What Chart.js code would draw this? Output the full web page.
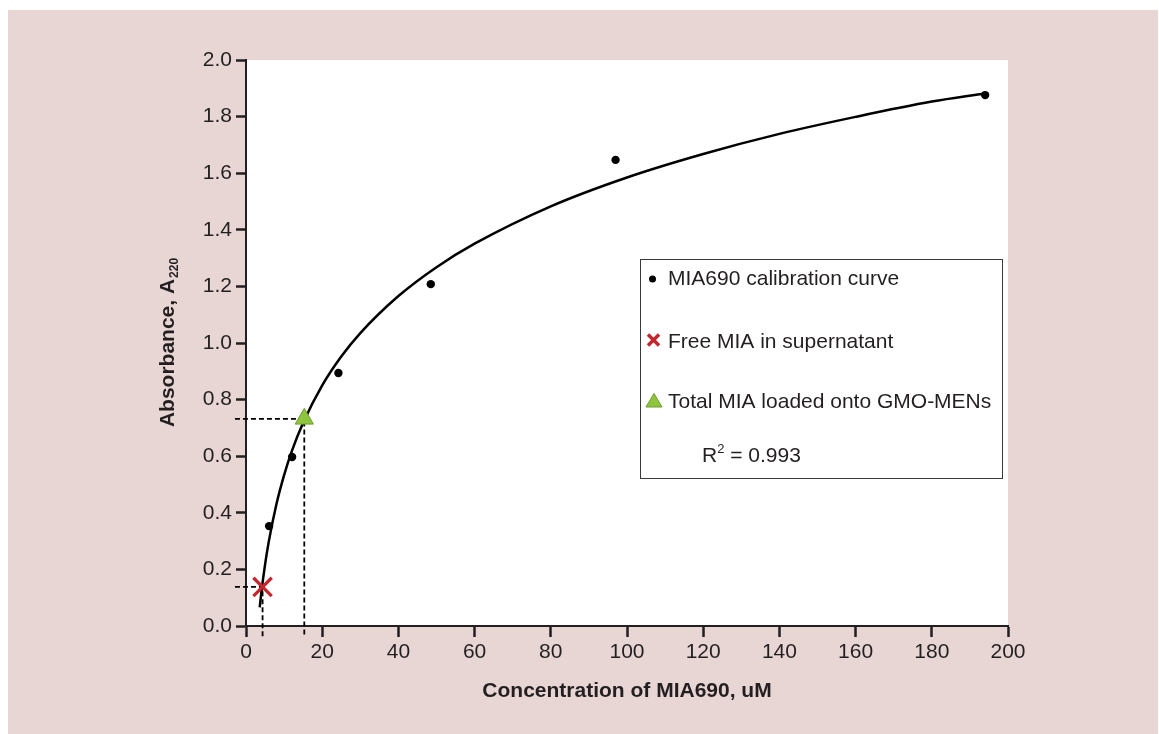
<!DOCTYPE html>
<html>
<head>
<meta charset="utf-8">
<script src="https://cdn.jsdelivr.net/npm/chart.js@4.4.1/dist/chart.umd.min.js"></script>
<style>
  html, body { margin: 0; padding: 0; background: #fff; }
  #panel { position: absolute; left: 8px; top: 10px; width: 1150px; height: 724px; background: #e8d6d5; }
  #chart { position: absolute; left: 0; top: 0; }
</style>
</head>
<body>
<div id="panel"></div>
<canvas id="chart" width="1159" height="734"></canvas>
<script>
// calibration standards
const concX = [6.06, 12.1, 24.25, 48.5, 97, 194];
const absY = [0.353, 0.597, 0.894, 1.208, 1.647, 1.876];

// fitted curve
const curveX = [3.6, 4, 5, 6, 8, 10, 12, 15, 20, 25, 30, 40, 50, 60, 80, 100, 120, 140, 160, 180, 194];
const curveY = [0.066, 0.115, 0.217, 0.300, 0.431, 0.533, 0.617, 0.718, 0.850, 0.952, 1.035, 1.166, 1.268, 1.351, 1.483, 1.585, 1.668, 1.739, 1.799, 1.853, 1.882];

// samples
const freeX = [4.35];
const freeY = [0.138];
const totalX = [15.3];
const totalY = [0.732];

// axis ticks
const xTicks = [0, 20, 40, 60, 80, 100, 120, 140, 160, 180, 200];
const yTicks = [0, 0.2, 0.4, 0.6, 0.8, 1.0, 1.2, 1.4, 1.6, 1.8, 2.0];

// dashed guides run a little past the axes, into the tick marks
const guideXStart = -2.9;
const guideYEnd = -0.036;

const INK = "#231f20";
const FONT = "'Liberation Sans', Arial, Helvetica, sans-serif";
const RED = "#c1272d";
const GREEN = "#8fc43f";

const pts = (xs, ys) => xs.map((x, i) => ({ x, y: ys[i] }));

function guide(x, y) {
    return [{ x: guideXStart, y }, { x, y }, { x, y: guideYEnd }];
}

// white plot area
const plotBg = {
    id: "plotBg",
    beforeDraw(chart) {
        const { ctx, chartArea: a } = chart;
        ctx.save();
        ctx.fillStyle = "#fff";
        ctx.fillRect(a.left, a.top, a.right - a.left, a.bottom - a.top);
        ctx.restore();
    }
};

// y title with subscript
const yTitle = {
    id: "yTitle",
    afterDraw(chart) {
        const { ctx, chartArea: a } = chart;
        const main = "Absorbance, A";
        const sub = "220";
        ctx.save();
        ctx.fillStyle = INK;
        ctx.font = `bold 21px ${FONT}`;
        const wMain = ctx.measureText(main).width;
        ctx.font = `bold 12px ${FONT}`;
        const wSub = ctx.measureText(sub).width;
        const total = wMain + wSub;
        ctx.translate(174, (a.top + a.bottom) / 2);
        ctx.rotate(-Math.PI / 2);
        ctx.textBaseline = "alphabetic";
        ctx.textAlign = "left";
        ctx.font = `bold 21px ${FONT}`;
        ctx.fillText(main, -total / 2, 0);
        ctx.font = `bold 12px ${FONT}`;
        ctx.fillText(sub, -total / 2 + wMain + 1, 4);
        ctx.restore();
    }
};

// legend box
const legendBox = {
    id: "legendBox",
    afterDraw(chart) {
        const ctx = chart.ctx;
        ctx.save();
        ctx.strokeStyle = "#3a3a3a";
        ctx.lineWidth = 1;
        ctx.strokeRect(640.5, 259.5, 362, 219);

        ctx.font = `21px ${FONT}`;
        ctx.fillStyle = INK;
        ctx.textBaseline = "alphabetic";
        ctx.fillText("MIA690 calibration curve", 668, 285);
        ctx.fillText("Free MIA in supernatant", 668, 347.5);
        ctx.fillText("Total MIA loaded onto GMO-MENs", 668, 408);

        // R²
        ctx.fillText("R", 702, 462);
        const wR = ctx.measureText("R").width;
        ctx.font = `13px ${FONT}`;
        ctx.fillText("2", 702 + wR, 453);
        const w2 = ctx.measureText("2").width;
        ctx.font = `21px ${FONT}`;
        ctx.fillText(" = 0.993", 702 + wR + w2, 462);

        // markers
        ctx.fillStyle = "#000";
        ctx.beginPath();
        ctx.arc(652.5, 279, 3.5, 0, Math.PI * 2);
        ctx.fill();

        ctx.strokeStyle = RED;
        ctx.lineWidth = 3.5;
        ctx.beginPath();
        ctx.moveTo(648, 334.5); ctx.lineTo(659, 345.5);
        ctx.moveTo(659, 334.5); ctx.lineTo(648, 345.5);
        ctx.stroke();

        ctx.fillStyle = GREEN;
        ctx.strokeStyle = "#6f9c2c";
        ctx.lineWidth = 1;
        ctx.beginPath();
        ctx.moveTo(654, 393.5);
        ctx.lineTo(662, 407);
        ctx.lineTo(646, 407);
        ctx.closePath();
        ctx.fill();
        ctx.stroke();
        ctx.restore();
    }
};

const ctx = document.getElementById("chart").getContext("2d");

new Chart(ctx, {
    type: "scatter",
    data: {
        datasets: [
            {
                label: "Total MIA loaded onto GMO-MENs",
                data: pts(totalX, totalY),
                pointStyle: "triangle",
                pointRadius: 10.5,
                backgroundColor: GREEN,
                borderColor: "#6f9c2c",
                borderWidth: 1,
                order: 1
            },
            {
                label: "Free MIA in supernatant",
                data: pts(freeX, freeY),
                pointStyle: "crossRot",
                pointRadius: 13,
                borderColor: RED,
                backgroundColor: RED,
                borderWidth: 3.2,
                order: 2
            },
            {
                label: "MIA690 calibration curve",
                data: pts(concX, absY),
                pointRadius: 4.2,
                backgroundColor: "#000",
                borderColor: "#000",
                borderWidth: 0,
                order: 3
            },
            {
                label: "fit",
                type: "line",
                data: pts(curveX, curveY),
                borderColor: "#000",
                borderWidth: 2.5,
                pointRadius: 0,
                cubicInterpolationMode: "monotone",
                fill: false,
                order: 4
            },
            {
                label: "guide free",
                type: "line",
                data: guide(freeX[0], freeY[0]),
                borderColor: "#000",
                borderWidth: 1.8,
                borderDash: [5, 3],
                pointRadius: 0,
                tension: 0,
                clip: false,
                order: 5
            },
            {
                label: "guide total",
                type: "line",
                data: guide(totalX[0], totalY[0]),
                borderColor: "#000",
                borderWidth: 1.8,
                borderDash: [5, 3],
                pointRadius: 0,
                tension: 0,
                clip: false,
                order: 5
            }
        ]
    },
    options: {
        responsive: false,
        animation: false,
        devicePixelRatio: 1,
        layout: { padding: { left: 0, top: 60, right: 151, bottom: 0 } },
        plugins: {
            legend: { display: false },
            tooltip: { enabled: false }
        },
        scales: {
            x: {
                type: "linear",
                min: 0,
                max: 200,
                afterFit: s => { s.height = 108; },
                afterBuildTicks: s => { s.ticks = xTicks.map(v => ({ value: v })); },
                ticks: {
                    color: INK,
                    font: { family: FONT, size: 21 },
                    padding: 3,
                    maxRotation: 0,
                    callback: v => String(v)
                },
                grid: {
                    drawOnChartArea: false,
                    drawTicks: true,
                    tickLength: 11,
                    tickWidth: 2.5,
                    tickColor: INK
                },
                border: { display: true, color: INK, width: 2 },
                title: {
                    display: true,
                    text: "Concentration of MIA690, uM",
                    color: INK,
                    font: { family: FONT, size: 21, weight: "bold" },
                    padding: { top: 0, bottom: 30 }
                }
            },
            y: {
                type: "linear",
                min: 0,
                max: 2,
                afterFit: s => { s.width = 246; },
                afterBuildTicks: s => { s.ticks = yTicks.map(v => ({ value: v })); },
                ticks: {
                    color: INK,
                    font: { family: FONT, size: 21 },
                    padding: 4,
                    callback: v => v.toFixed(1)
                },
                grid: {
                    drawOnChartArea: false,
                    drawTicks: true,
                    tickLength: 10,
                    tickWidth: 2.5,
                    tickColor: INK
                },
                border: { display: true, color: INK, width: 2 }
            }
        }
    },
    plugins: [plotBg, yTitle, legendBox]
});
</script>
</body>
</html>
